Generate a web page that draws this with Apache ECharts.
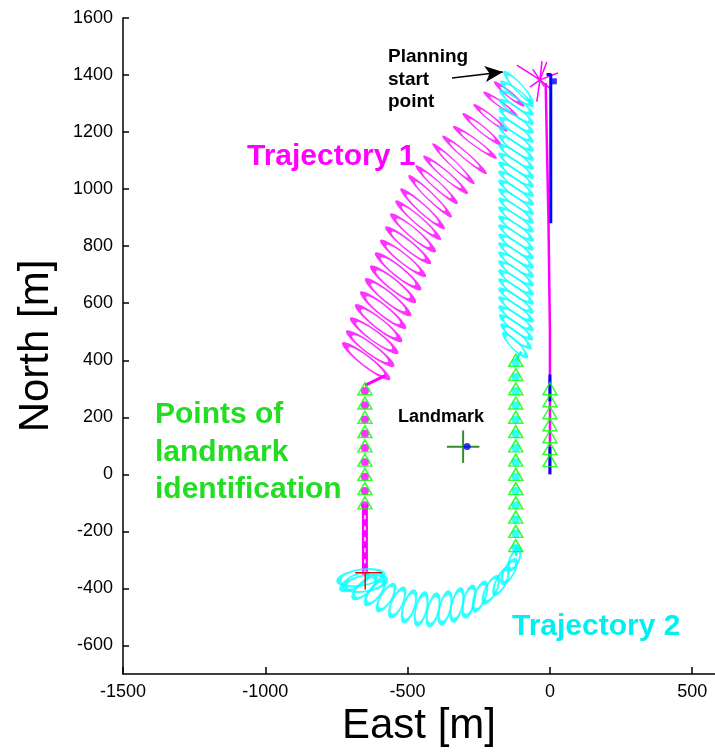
<!DOCTYPE html>
<html>
<head>
<meta charset="utf-8">
<script src="https://cdn.jsdelivr.net/npm/echarts@6/dist/echarts.min.js"></script>
<style>
html,body{margin:0;padding:0;background:#fff;}
#chart{width:715px;height:754px;}
</style>
</head>
<body>
<div id="chart"></div>
<script>
// ---- axis ticks ----
const xTicks = [-1500, -1000, -500, 0, 500];
const yTicks = [-600, -400, -200, 0, 200, 400, 600, 800, 1000, 1200, 1400, 1600];

// ---- Trajectory 1 (magenta) loops: upper-left tip and lower-right tip of every loop ----
const traj1TipA = [[-182,1365],[-218,1330],[-253,1285],[-291,1253],[-323,1208],[-361,1173],[-397,1145],[-428,1103],[-456,1068],[-481,1033],[-509,987],[-526,945],[-544,900],[-561,854],[-579,808],[-597,763],[-614,717],[-632,672],[-649,626],[-667,581],[-684,535],[-698,490],[-712,448]];
const traj1TipB = [[-105,1302],[-130,1267],[-165,1215],[-186,1166],[-204,1120],[-239,1068],[-281,1033],[-305,998],[-340,963],[-361,917],[-386,875],[-400,837],[-418,794],[-435,752],[-453,707],[-470,661],[-488,616],[-505,570],[-523,525],[-537,479],[-551,437],[-565,392],[-579,346]];
// connection from loops to the identification leg, and the leg itself
const traj1Link = [[-579,346],[-650,312]];
const traj1Leg = [[-650,-105],[-650,-352]];
// straight leg along East = 0 and the scribble at the start
const traj1Straight = [[-15,1372],[-5,880],[0,500],[0,0]];
const traj1Scribble = [[[-35,1383],[-116,1435]],[[-35,1383],[-28,1449]],[[-35,1383],[-11,1446]],[[-35,1383],[28,1407]],[[-35,1383],[-46,1307]],[[-35,1383],[-70,1358]],[[-35,1383],[7,1348]],[[-60,1420],[-20,1360]]];

// ---- Trajectory 2 (cyan) loops ----
const traj2TipA = [[-150,1400],[-160,1368],[-163,1336],[-164,1305],[-165,1273],[-165,1242],[-166,1210],[-166,1179],[-166,1147],[-166,1116],[-166,1084],[-166,1053],[-166,1021],[-166,990],[-166,958],[-166,927],[-166,895],[-166,864],[-166,832],[-166,801],[-166,769],[-166,738],[-166,706],[-166,675],[-166,643],[-166,612],[-166,580],[-164,549],[-160,517],[-155,486]];
const traj2TipB = [[-70,1313],[-72,1300],[-72,1270],[-72,1238],[-72,1207],[-72,1175],[-72,1144],[-72,1112],[-72,1081],[-72,1049],[-72,1018],[-72,986],[-72,955],[-72,923],[-72,892],[-72,860],[-72,829],[-72,797],[-72,766],[-72,734],[-72,703],[-72,671],[-72,640],[-72,608],[-72,577],[-72,545],[-72,514],[-74,482],[-78,451],[-90,420]];
const traj2Link = [[-100,430],[-120,400]];
const traj2Column = [[-120,-250],[-118,-285]];
const traj2LowTipA = [[-112,-270],[-126,-309],[-154,-340],[-189,-369],[-232,-390],[-274,-404],[-316,-414],[-358,-425],[-400,-432],[-442,-428],[-481,-421],[-519,-411],[-554,-397],[-590,-383],[-621,-369],[-649,-355],[-728,-372],[-706,-392]];
const traj2LowTipB = [[-137,-326],[-161,-372],[-189,-411],[-225,-439],[-260,-467],[-295,-488],[-337,-502],[-379,-512],[-421,-519],[-463,-516],[-509,-505],[-554,-488],[-597,-467],[-639,-446],[-681,-425],[-723,-397],[-600,-352],[-590,-372]];

// ---- landmark identification points (triangles) ----
const idLeftY = [300,250,200,150,100,50,0,-50,-100];
const idMidY = [400,350,300,250,200,150,100,50,0,-50,-100,-150,-200,-250];
const idRightY = [300,258,216,174,132,90,48];
const idLeftX = -650, idMidX = -120, idRightX = 0;

// ---- blue reference track ----
const blueSegs = [[[-12,1402],[3,1402],[3,880]],[[0,350],[0,255]],[[0,97],[0,0]]];
const blueMarker = [[12,1378]];

// ---- landmark ----
const landmark = [-305, 97];
const landmarkEst = [[-291, 98]];
const landmarkArm = 57;

// ---- end cross (red) ----
const endCrossH = [[-684,-345],[-590,-345]];
const endCrossV = [[-649,-345],[-649,-404]];

// ---- annotation arrow ----
const arrowFrom = [-344, 1390];
const arrowTo = [-165, 1411];

// ---- styles ----
const FF = '"Liberation Sans", Arial, Helvetica, sans-serif';
const MAG = '#ff00ff', CYAN = '#00ffff', LIME = '#00ff00', BLUE = '#0000ff';
const ELLIPSE = 'path://M0,50A50,50,0,1,1,100,50A50,50,0,1,1,0,50Z';
const traj1LoopWidthPx = [5,5,5,6,6,6,6,7,7,7,8,8,9,9,9,10,10,10,10,10,10,10,10];
const traj2LoopWidthPx = 8;
const traj2LowLoopWidthPx = [9,10,10,11,11,11,11,11,11,11,11,11,11,11,12,12,16,16];

const chart = echarts.init(document.getElementById('chart'), null, { renderer: 'canvas' });

function line(data, color, width, z, extra) {
  return Object.assign({
    type: 'line', data: data, symbol: 'none', z: z || 2, silent: true,
    lineStyle: { color: color, width: width }, animation: false
  }, extra || {});
}
function pts(xv, ys) { return ys.map(y => [xv, y]); }

const base = {
  animation: false,
  backgroundColor: '#fff',
  grid: { left: 123, right: 0, top: 18, bottom: 80, containLabel: false },
  xAxis: {
    type: 'value', min: -1500, max: 580,
    axisLine: { show: true, onZero: false, lineStyle: { color: '#000', width: 1.5 } },
    axisTick: { show: true, inside: true, length: 7, customValues: xTicks, lineStyle: { color: '#000', width: 1.5 } },
    axisLabel: { customValues: xTicks, formatter: v => String(v), fontSize: 18, color: '#000', margin: 9, fontFamily: FF },
    splitLine: { show: false },
    name: 'East [m]', nameLocation: 'middle', nameGap: 28,
    nameTextStyle: { fontSize: 42, color: '#000', fontFamily: FF }
  },
  yAxis: {
    type: 'value', min: -700, max: 1600,
    axisLine: { show: true, onZero: false, lineStyle: { color: '#000', width: 1.5 } },
    axisTick: { show: true, inside: true, length: 6, customValues: yTicks, lineStyle: { color: '#000', width: 1.5 } },
    axisLabel: { customValues: yTicks, formatter: v => String(v), fontSize: 18, color: '#000', margin: 10, fontFamily: FF },
    splitLine: { show: false },
    name: 'North [m]', nameLocation: 'middle', nameGap: 66,
    nameTextStyle: { fontSize: 42, color: '#000', fontFamily: FF }
  },
  graphic: [
    { type: 'text', z: 10, style: { text: 'Trajectory 1', x: 247, y: 157, verticalAlign: 'middle', font: 'bold 30px ' + FF, fill: '#ff00ff' } },
    { type: 'text', z: 10, style: { text: 'Trajectory 2', x: 512, y: 627, verticalAlign: 'middle', font: 'bold 30px ' + FF, fill: '#00f0f0' } },
    { type: 'text', z: 10, style: { text: 'Points of', x: 155, y: 415, verticalAlign: 'middle', font: 'bold 30px ' + FF, fill: '#22dd22' } },
    { type: 'text', z: 10, style: { text: 'landmark', x: 155, y: 453, verticalAlign: 'middle', font: 'bold 30px ' + FF, fill: '#22dd22' } },
    { type: 'text', z: 10, style: { text: 'identification', x: 155, y: 490, verticalAlign: 'middle', font: 'bold 30px ' + FF, fill: '#22dd22' } },
    { type: 'text', z: 10, style: { text: 'Planning', x: 388, y: 57, verticalAlign: 'middle', font: 'bold 19px ' + FF, fill: '#000' } },
    { type: 'text', z: 10, style: { text: 'start', x: 388, y: 80, verticalAlign: 'middle', font: 'bold 19px ' + FF, fill: '#000' } },
    { type: 'text', z: 10, style: { text: 'point', x: 388, y: 102, verticalAlign: 'middle', font: 'bold 19px ' + FF, fill: '#000' } },
    { type: 'text', z: 10, style: { text: 'Landmark', x: 398, y: 417, verticalAlign: 'middle', font: 'bold 18px ' + FF, fill: '#000' } }
  ],
  series: []
};
chart.setOption(base);

// one hollow ellipse per loop, spanning its two read tips (through the axis scales)
function loops(tipsA, tipsB, color, widthPx, borderW, z) {
  const data = tipsA.map((a, i) => {
    const b = tipsB[i];
    const pa = chart.convertToPixel({ gridIndex: 0 }, a);
    const pb = chart.convertToPixel({ gridIndex: 0 }, b);
    const dx = pb[0] - pa[0], dy = pb[1] - pa[1];
    const len = Math.sqrt(dx * dx + dy * dy);
    const w = Array.isArray(widthPx) ? widthPx[i] : widthPx;
    return {
      value: [(a[0] + b[0]) / 2, (a[1] + b[1]) / 2],
      symbolSize: [len + w * 0.5, w],
      symbolRotate: -Math.atan2(dy, dx) * 180 / Math.PI
    };
  });
  return {
    type: 'scatter', data: data, symbol: ELLIPSE, symbolKeepAspect: false, z: z, silent: true, animation: false,
    itemStyle: { color: 'rgba(0,0,0,0)', borderColor: color, borderWidth: borderW }
  };
}

const series = [];
// Trajectory 1
series.push(loops(traj1TipA, traj1TipB, MAG, traj1LoopWidthPx, 3.4, 2));
series.push(line(traj1Link, MAG, 3, 2));
series.push(line(traj1Leg, MAG, 6, 2));
series.push(line(traj1Leg, '#ffffff', 1.5, 3, { lineStyle: { color: '#fff', width: 1.5, type: [4, 7] } }));
series.push(line(traj1Straight, MAG, 2.5, 2));
traj1Scribble.forEach(s => series.push(line(s, MAG, 1.5, 2)));
// blue
blueSegs.forEach(s => series.push(line(s, BLUE, 3, 3)));
series.push({ type: 'scatter', data: blueMarker, symbol: 'rect', symbolSize: [7, 6], itemStyle: { color: BLUE }, z: 3, silent: true, animation: false });
// Trajectory 2
series.push(loops(traj2TipA, traj2TipB, CYAN, traj2LoopWidthPx, 3, 3));
series.push(line(traj2Link, CYAN, 2.5, 3));
series.push(line(traj2Column, CYAN, 2.5, 3));
series.push(loops(traj2LowTipA, traj2LowTipB, CYAN, traj2LowLoopWidthPx, 3, 3));
// dots inside the triangles
series.push({ type: 'scatter', data: pts(idLeftX, idLeftY.map(v => v - 8)), symbol: 'circle', symbolSize: 8, itemStyle: { color: MAG }, z: 4, silent: true, animation: false });
series.push({ type: 'scatter', data: pts(idMidX, idMidY.map(v => v - 8)), symbol: 'circle', symbolSize: 8, itemStyle: { color: CYAN }, z: 4, silent: true, animation: false });
// triangles
[[idLeftX, idLeftY], [idMidX, idMidY], [idRightX, idRightY]].forEach(c => {
  series.push({ type: 'scatter', data: pts(c[0], c[1]), symbol: 'triangle', symbolSize: [14, 12],
    itemStyle: { color: 'rgba(0,0,0,0)', borderColor: LIME, borderWidth: 1.5 }, z: 5, silent: true, animation: false });
});
// landmark cross
series.push(line([[landmark[0] - landmarkArm, landmark[1]], [landmark[0] + landmarkArm, landmark[1]]], '#2f8f2f', 2, 4));
series.push(line([[landmark[0], landmark[1] + landmarkArm], [landmark[0], landmark[1] - landmarkArm]], '#2f8f2f', 2, 4));
series.push({ type: 'scatter', data: landmarkEst, symbol: 'circle', symbolSize: 7, itemStyle: { color: BLUE }, z: 5, silent: true, animation: false });
// red end cross
series.push(line(endCrossH, '#ff0000', 1.5, 5));
series.push(line(endCrossV, '#ff0000', 1.5, 5));
// annotation arrow
series.push({
  type: 'line', data: [], symbol: 'none', silent: true, animation: false,
  markLine: {
    silent: true, animation: false, symbol: ['none', 'arrow'], symbolSize: [12, 18],
    label: { show: false },
    lineStyle: { color: '#000', width: 1.5, type: 'solid' },
    data: [[{ coord: arrowFrom }, { coord: arrowTo }]]
  }
});

base.series = series;
chart.setOption(base, true);
</script>
</body>
</html>
